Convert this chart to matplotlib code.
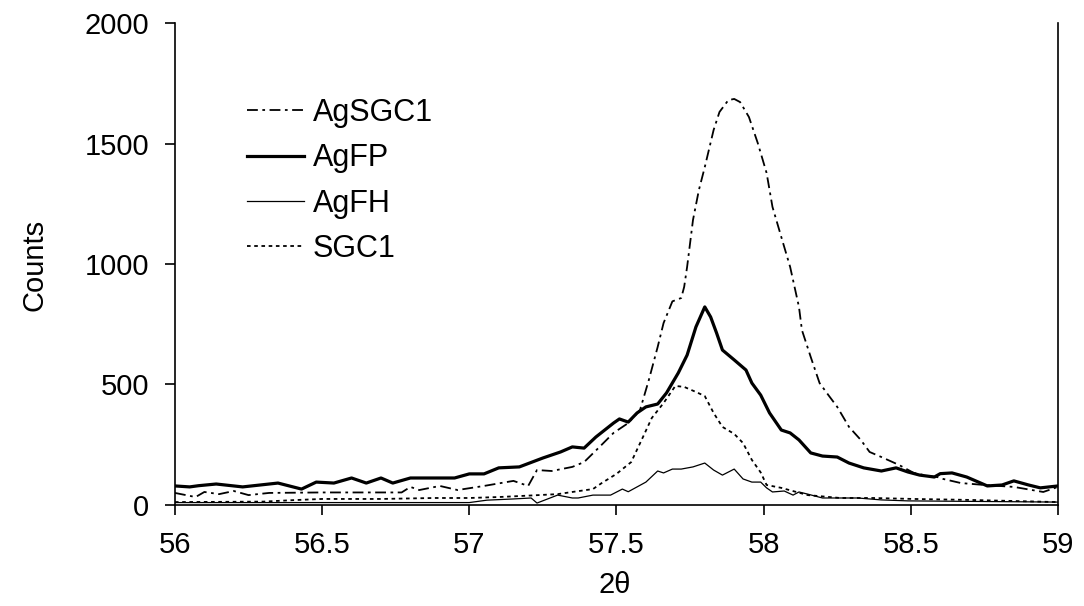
import matplotlib
matplotlib.use('Agg')
import matplotlib.pyplot as plt

plt.rcParams['font.family'] = ['Liberation Sans', 'DejaVu Sans']

# AgSGC1 (dash-dot)
agsgc1_x = [56.00, 56.07, 56.10, 56.15, 56.20, 56.25, 56.32, 56.50, 56.77, 56.80, 56.83, 56.90,
            56.96, 57.05, 57.15, 57.20, 57.23, 57.28, 57.35, 57.39, 57.44, 57.49, 57.54, 57.58,
            57.61, 57.64, 57.66, 57.69, 57.72, 57.73, 57.74, 57.76, 57.78, 57.80, 57.83, 57.85,
            57.88, 57.90, 57.92, 57.95, 57.98, 58.01, 58.03, 58.06, 58.09, 58.12, 58.13, 58.16,
            58.19, 58.22, 58.25, 58.29, 58.33, 58.36, 58.40, 58.46, 58.51, 58.56, 58.59, 58.61,
            58.67, 58.75, 58.85, 58.95, 59.00]
agsgc1_y = [50, 33, 54, 45, 58, 41, 50, 52, 52, 75, 62, 79,
            62, 79, 100, 79, 145, 141, 158, 178, 238, 299, 340, 394,
            519, 656, 755, 845, 859, 905, 988, 1183, 1307, 1402, 1556, 1631,
            1680, 1685, 1672, 1610, 1502, 1378, 1237, 1112, 988, 822, 726, 614,
            506, 456, 407, 324, 270, 220, 199, 166, 133, 120, 116, 108,
            91, 83, 75, 54, 75]

# AgFP (thick solid)
agfp_x = [56.00, 56.05, 56.08, 56.14, 56.23, 56.35, 56.43, 56.48, 56.54, 56.60, 56.65, 56.70,
          56.74, 56.80, 56.95, 57.00, 57.05, 57.10, 57.17, 57.25, 57.31, 57.35, 57.39, 57.43,
          57.49, 57.51, 57.54, 57.57, 57.60, 57.64, 57.67, 57.71, 57.74, 57.77, 57.80, 57.82,
          57.84, 57.86, 57.90, 57.92, 57.94, 57.96, 57.99, 58.02, 58.06, 58.09, 58.12, 58.16,
          58.20, 58.25, 58.29, 58.34, 58.40, 58.45, 58.49, 58.53, 58.58, 58.60, 58.64, 58.69,
          58.76, 58.81, 58.85, 58.90, 58.94, 59.00]
agfp_y = [79, 75, 80, 87, 75, 91, 66, 95, 91, 112, 91, 112,
          91, 112, 112, 129, 129, 154, 158, 195, 220, 241, 236, 282,
          340, 357, 344, 382, 407, 419, 465, 548, 622, 739, 822, 780,
          714, 643, 602, 581, 560, 506, 456, 382, 311, 299, 270, 216,
          203, 199, 174, 154, 141, 154, 137, 124, 116, 130, 133, 116,
          79, 83, 100, 83, 71, 79]

# AgFH (thin solid)
agfh_x = [56.00, 57.00, 57.06, 57.15, 57.21, 57.23, 57.30, 57.35, 57.37, 57.42, 57.48, 57.52,
          57.54, 57.57, 57.60, 57.64, 57.66, 57.69, 57.72, 57.76, 57.80, 57.83, 57.86, 57.90,
          57.93, 57.96, 57.99, 58.01, 58.03, 58.07, 58.10, 58.12, 58.15, 58.20, 58.32, 58.40,
          58.49, 59.00]
agfh_y = [10, 10, 20, 25, 29, 8, 41, 29, 29, 41, 41, 66,
          55, 75, 95, 141, 133, 149, 149, 158, 174, 145, 124, 149,
          108, 95, 95, 71, 54, 58, 41, 54, 45, 29, 29, 21,
          17, 12]

# SGC1 (dotted)
sgc1_x = [56.00, 56.30, 56.40, 56.50, 56.70, 56.88, 57.00, 57.10, 57.17, 57.30, 57.35, 57.42,
          57.45, 57.50, 57.55, 57.59, 57.62, 57.66, 57.70, 57.73, 57.77, 57.80, 57.83, 57.86,
          57.90, 57.93, 57.96, 57.99, 58.01, 58.06, 58.15, 58.26, 58.37, 58.51, 58.70, 59.00]
sgc1_y = [12, 14, 20, 25, 25, 29, 29, 33, 37, 45, 54, 66,
          91, 129, 178, 282, 361, 423, 494, 490, 469, 452, 382, 324,
          295, 257, 187, 135, 83, 71, 41, 29, 29, 25, 21, 12]

fig = plt.figure(figsize=(10.84, 6.06), dpi=100)
ax = fig.add_axes([0.1614, 0.1667, 0.8146, 0.7953])

ax.plot(agsgc1_x, agsgc1_y, color='black', lw=1.3, dashes=(6, 2.5, 1.5, 2.5), label='AgSGC1')
ax.plot(agfp_x, agfp_y, color='black', lw=2.3, label='AgFP')
ax.plot(agfh_x, agfh_y, color='black', lw=0.9, label='AgFH')
ax.plot(sgc1_x, sgc1_y, color='black', lw=1.3, dashes=(2, 2), label='SGC1')

ax.set_xlim(56, 59)
ax.set_ylim(0, 2000)
ax.set_xticks([56, 56.5, 57, 57.5, 58, 58.5, 59])
ax.set_xticklabels(['56', '56.5', '57', '57.5', '58', '58.5', '59'])
ax.set_yticks([0, 500, 1000, 1500, 2000])

ax.spines['top'].set_visible(False)
ax.spines['right'].set_visible(True)
for s in ax.spines.values():
    s.set_linewidth(1.2)
ax.tick_params(axis='both', direction='out', length=7.5, width=1.2, labelsize=21)
ax.tick_params(axis='x', pad=11)
ax.tick_params(axis='y', pad=11)

fig.text(615 / 1084, 1 - 585 / 606, '2θ', fontsize=21, ha='center', va='center')
fig.text(35 / 1084, 1 - 265 / 606, 'Counts', fontsize=21, ha='center', va='center', rotation=90)

ax.legend(loc='upper left', bbox_to_anchor=(247 / 1084, 1 - 98 / 606), bbox_transform=fig.transFigure,
          frameon=False, fontsize=22, borderpad=0, borderaxespad=0,
          handlelength=1.85, handletextpad=0.3, labelspacing=0.5)

fig.savefig('out.png', dpi=100)
